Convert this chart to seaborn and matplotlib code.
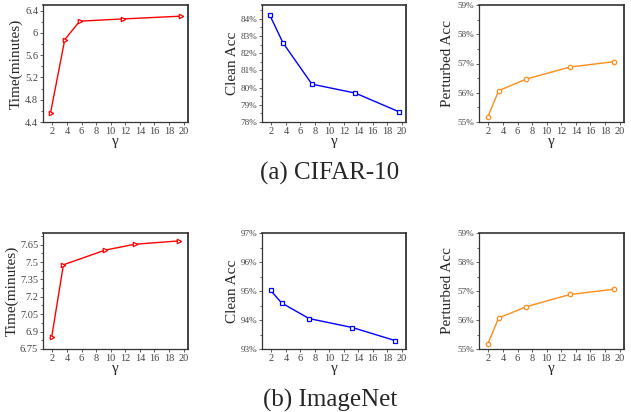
import matplotlib
matplotlib.use("Agg")
import matplotlib.pyplot as plt
import seaborn as sns
import pandas as pd
from matplotlib.ticker import AutoMinorLocator, FuncFormatter, FormatStrFormatter

##### Daten #####

# CIFAR-10
cifar_time_x = [1.73, 3.69, 5.74, 11.7, 19.7]
cifar_time_y = [4.56, 5.88, 6.21, 6.25, 6.30]
cifar_clean_x = [1.8, 3.6, 7.6, 13.6, 19.6]
cifar_clean_y = [84.19, 82.6, 80.2, 79.68, 78.6]
cifar_pert_x = [1.9, 3.4, 7.2, 13.2, 19.2]
cifar_pert_y = [55.17, 56.07, 56.47, 56.88, 57.06]

# ImageNet
imnet_time_x = [1.9, 3.5, 9.2, 13.3, 19.4]
imnet_time_y = [6.856, 7.476, 7.602, 7.653, 7.682]
imnet_clean_x = [1.9, 3.4, 7.2, 13.2, 19.1]
imnet_clean_y = [95.02, 94.59, 94.05, 93.74, 93.29]
imnet_pert_x = [1.9, 3.4, 7.2, 13.2, 19.2]
imnet_pert_y = [55.17, 56.07, 56.46, 56.88, 57.06]

x_ticks = [2, 4, 6, 8, 10, 12, 14, 16, 18, 20]
cifar_time_ticks = [4.4, 4.8, 5.2, 5.6, 6.0, 6.4]
imnet_time_ticks = [6.75, 6.9, 7.05, 7.2, 7.35, 7.5, 7.65]
cifar_clean_ticks = [78, 79, 80, 81, 82, 83, 84]
imnet_clean_ticks = [93, 94, 95, 96, 97]
pert_ticks = [55, 56, 57, 58, 59]

##### Plot #####

sns.set_style("ticks")
plt.rcParams["font.family"] = ["Liberation Serif", "DejaVu Serif"]

W, H = 631, 412
fig = plt.figure(figsize=(W / 100, H / 100), dpi=100)


def make_ax(left, top, width, height):
    return fig.add_axes([left / W, (H - top - height) / H, width / W, height / H])


def style_ax(ax, x, y, color, marker, ylabel, yticks, ylim, fmt, ylab_x, ysize=7.5):
    df = pd.DataFrame({"gamma": x, "val": y})
    sns.lineplot(data=df, x="gamma", y="val", ax=ax, color=color, marker=marker,
                 markersize=3.2, markerfacecolor="white", markeredgecolor=color,
                 markeredgewidth=0.9, linewidth=1)
    ax.set_xlim(0.7, 20.6)
    ax.set_xticks(x_ticks)
    ax.set_yticks(yticks)
    ax.set_ylim(*ylim)
    ax.yaxis.set_major_formatter(fmt)
    ax.yaxis.set_minor_locator(AutoMinorLocator(2))
    ax.tick_params(which="both", direction="out", length=2, width=0.6,
                   labelsize=7.5, labelcolor="#444444", color="#444444", pad=1.5)
    ax.tick_params(axis="y", labelsize=ysize)
    ax.tick_params(which="minor", length=1.5)
    for s in ax.spines.values():
        s.set_color("#333333")
        s.set_linewidth(0.9)
        s.set_visible(True)
    ax.spines["right"].set_linewidth(1.3)
    ax.spines["top"].set_linewidth(1.2)
    ax.set_xlabel("γ", fontsize=11)
    ax.set_ylabel(ylabel, fontsize=11)
    ax.xaxis.set_label_coords(0.5, -0.11)
    ax.yaxis.set_label_coords(ylab_x, 0.5)


pct = FuncFormatter(lambda v, p: "{:.0f}%".format(v))
num = FormatStrFormatter("%g")

lefts = [43, 262, 479]
widths = [145, 144, 145]

# obere Reihe: CIFAR-10
ax1 = make_ax(lefts[0], 5, widths[0], 117)
style_ax(ax1, cifar_time_x, cifar_time_y, "red", ">", "Time(minutes)",
         cifar_time_ticks, (4.4, 6.5), num, -0.14)
ax2 = make_ax(lefts[1], 5, widths[1], 117)
style_ax(ax2, cifar_clean_x, cifar_clean_y, "blue", "s", "Clean Acc",
         cifar_clean_ticks, (78, 84.8), pct, -0.16, 6.6)
ax3 = make_ax(lefts[2], 5, widths[2], 117)
style_ax(ax3, cifar_pert_x, cifar_pert_y, "#ff8c1a", "o", "Perturbed Acc",
         pert_ticks, (55, 59), pct, -0.17, 6.6)

# untere Reihe: ImageNet
ax4 = make_ax(lefts[0], 233, widths[0], 116)
style_ax(ax4, imnet_time_x, imnet_time_y, "red", ">", "Time(minutes)",
         imnet_time_ticks, (6.75, 7.75), num, -0.17)
ax5 = make_ax(lefts[1], 233, widths[1], 116)
style_ax(ax5, imnet_clean_x, imnet_clean_y, "blue", "s", "Clean Acc",
         imnet_clean_ticks, (93, 97), pct, -0.16, 6.6)
ax6 = make_ax(lefts[2], 233, widths[2], 116)
style_ax(ax6, imnet_pert_x, imnet_pert_y, "#ff8c1a", "o", "Perturbed Acc",
         pert_ticks, (55, 59), pct, -0.17, 6.6)

fig.text(330 / W, 1 - 173 / H, "(a) CIFAR-10", ha="center", va="center", fontsize=18)
fig.text(330 / W, 1 - 400 / H, "(b) ImageNet", ha="center", va="center", fontsize=18)

fig.savefig("out.png", dpi=100)
